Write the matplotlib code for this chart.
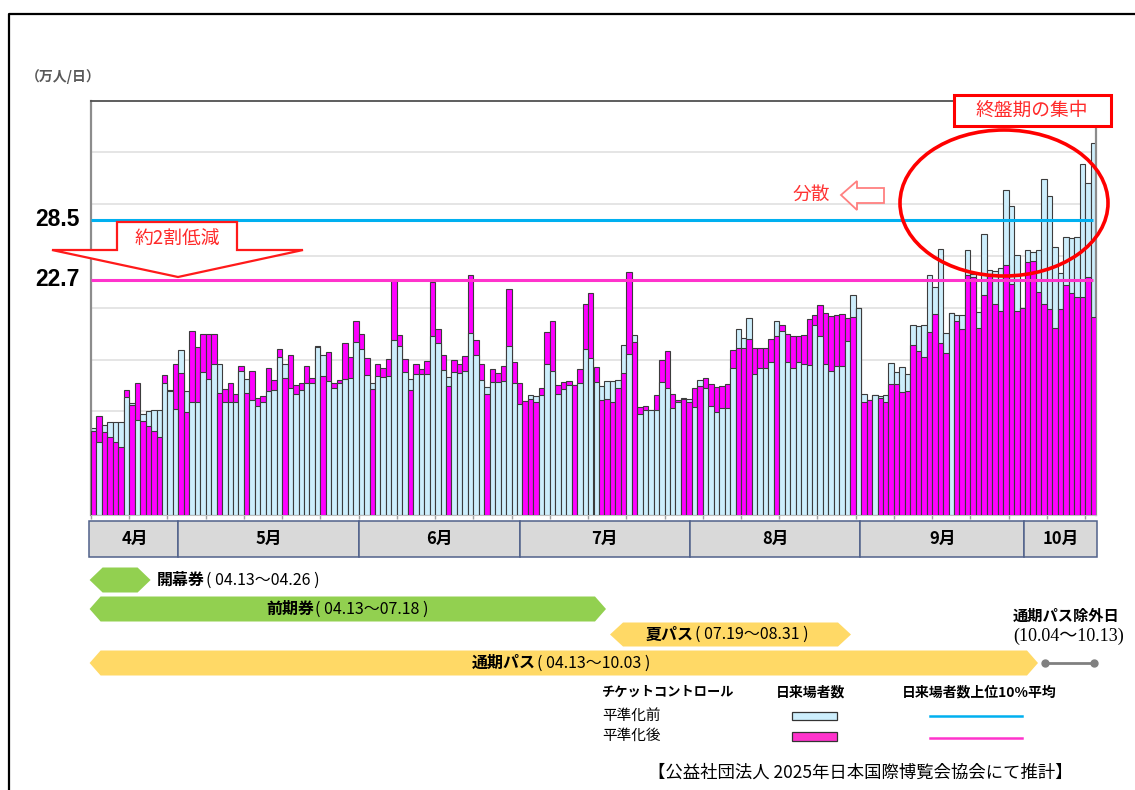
import numpy as np
import matplotlib
matplotlib.use("Agg")
import matplotlib.pyplot as plt
from matplotlib.patches import Polygon, Rectangle, Ellipse

plt.rcParams['font.family'] = ['Noto Sans CJK JP', 'DejaVu Sans']

# ---------------- data (万人/日), 2025-04-13 .. 2025-10-13 ----------------
before = [8.37, 7.05, 8.65, 9.01, 8.94, 9.01, 11.36, 10.78, 9.14, 9.75,
          10.07, 10.10, 10.17, 12.77, 12.0, 10.26, 15.93, 11.94, 10.88, 10.94,
          13.80, 13.13, 14.61, 14.61, 10.88, 10.88, 10.94, 13.90, 13.13, 11.07,
          10.55, 10.94, 12.00, 12.10, 15.28, 14.54, 12.29, 11.65, 12.10, 12.71,
          12.77, 16.25, 15.41, 12.93, 12.29, 12.77, 13.10, 13.19, 16.67, 15.99,
          13.48, 12.77, 13.38, 13.32, 13.38, 16.86, 16.34, 13.80, 13.13, 13.64,
          13.58, 13.64, 17.28, 16.57, 14.00, 13.32, 13.80, 13.74, 13.90, 17.54,
          15.48, 13.06, 12.39, 12.87, 12.87, 12.93, 16.34, 12.71, 10.71, 11.02,
          11.55, 11.49, 11.55, 14.61, 13.90, 11.65, 12.13, 12.58, 12.54, 12.71,
          15.99, 15.12, 12.81, 12.45, 12.97, 12.97, 13.03, 16.44, 15.54, 17.34,
          9.75, 10.17, 10.10, 10.17, 12.87, 12.23, 10.30, 10.88, 11.33, 11.23,
          10.39, 13.00, 12.30, 10.50, 9.90, 10.30, 10.30, 14.20, 18.00, 17.05,
          19.05, 13.60, 14.20, 14.20, 14.80, 18.70, 17.80, 14.80, 14.20, 14.80,
          14.60, 14.50, 18.30, 17.30, 14.60, 13.90, 14.40, 14.40, 16.80, 21.20,
          20.00, 11.65, 11.12, 11.60, 11.50, 11.55, 14.63, 13.80, 14.30, 13.60,
          18.30, 18.25, 18.30, 23.20, 22.00, 25.70, 17.60, 19.50, 19.30, 19.30,
          25.60, 23.30, 19.60, 27.10, 23.70, 23.60, 23.80, 31.40, 29.80, 25.10,
          20.02, 25.60, 25.40, 25.60, 32.40, 30.80, 25.90, 23.40, 26.80, 26.70,
          26.80, 33.90, 32.10, 35.90]
after = [8.11, 9.59, 7.98, 7.56, 7.08, 6.53, 12.07, 10.62, 12.77, 9.11,
         8.62, 8.11, 7.50, 13.55, 12.1, 14.54, 13.67, 9.91, 17.73, 16.18,
         17.50, 17.50, 17.50, 11.74, 12.19, 12.77, 11.65, 14.41, 11.81, 13.90,
         11.33, 11.52, 14.16, 13.03, 15.99, 13.19, 15.48, 12.52, 12.77, 14.41,
         13.26, 16.27, 13.38, 15.70, 12.77, 13.03, 16.57, 15.22, 18.69, 17.44,
         15.12, 12.13, 14.61, 14.19, 15.03, 22.68, 17.34, 15.03, 12.10, 14.54,
         14.09, 14.83, 22.49, 17.92, 15.48, 12.45, 14.93, 14.54, 15.38, 23.20,
         16.86, 14.54, 11.65, 14.09, 13.67, 14.41, 21.78, 14.77, 12.77, 11.00,
         11.23, 10.88, 12.29, 17.66, 18.69, 12.52, 12.81, 12.97, 12.52, 14.09,
         20.33, 21.46, 14.32, 11.07, 11.23, 10.88, 12.29, 13.74, 23.42, 16.67,
         10.39, 10.55, 10.12, 11.55, 14.96, 15.83, 11.71, 11.07, 11.23, 10.88,
         12.29, 12.50, 13.20, 12.60, 12.40, 12.50, 12.60, 15.90, 16.10, 16.10,
         17.00, 16.10, 16.15, 16.15, 17.00, 17.30, 18.30, 17.50, 17.30, 17.30,
         17.40, 18.90, 19.30, 20.30, 19.50, 19.20, 19.30, 19.40, 19.00, 19.10,
         20.02, 10.87, 11.10, 11.62, 11.27, 10.87, 12.60, 12.60, 11.90, 12.00,
         16.40, 15.80, 15.30, 17.70, 19.40, 16.60, 15.60, 19.52, 18.70, 18.00,
         23.20, 23.00, 18.10, 21.20, 23.30, 20.40, 19.70, 24.10, 22.30, 19.70,
         20.00, 24.40, 24.50, 21.50, 20.40, 19.90, 18.10, 19.90, 22.20, 21.40,
         21.00, 21.00, 22.98, 19.10]
top10_before = 28.5
top10_after = 22.7

months = ['4月', '5月', '6月', '7月', '8月', '9月', '10月']
month_edges = [0, 16, 49, 78.4, 109.5, 140.7, 170.7, 184]

tickets = ['開幕券', '前期券', '夏パス', '通期パス']
ticket_periods = ['( 04.13～04.26 )', '( 04.13～07.18 )', '( 07.19～08.31 )', '( 04.13～10.03 )']

# ---------------- figure ----------------
W, H = 1135, 790
fig = plt.figure(figsize=(W / 100, H / 100), dpi=100)
fig.patch.set_facecolor('white')

C_BEFORE = '#cdeefc'
C_AFTER = '#ff00ff'
C_LINE_B = '#00b0f0'
C_LINE_A = '#ff33cc'

L, R, T, B = 91, 1096, 100.7, 515
ax = fig.add_axes([L / W, 1 - B / H, (R - L) / W, (B - T) / H])
n = len(before)
x = np.arange(n)
b = np.array(before)
a = np.array(after)
tall = np.maximum(a, b)
short = np.minimum(a, b)
tall_col = [C_AFTER if ai > bi else C_BEFORE for ai, bi in zip(a, b)]
short_col = [C_BEFORE if ai > bi else C_AFTER for ai, bi in zip(a, b)]
ax.bar(x, tall, width=1, align='edge', color=tall_col, edgecolor='#3c3c3c', linewidth=0.8, zorder=2)
ax.bar(x, short, width=1, align='edge', color=short_col, edgecolor='#3c3c3c', linewidth=0.8, zorder=3)

ax.plot([0, n - 0.5], [top10_before] * 2, color=C_LINE_B, lw=2.2, zorder=4, solid_capstyle='butt')
ax.plot([0, n - 0.5], [top10_after] * 2, color=C_LINE_A, lw=2.2, zorder=4, solid_capstyle='butt')

ax.set_xlim(0, n)
ax.set_ylim(0, 40)
ax.set_yticks(np.arange(5, 40, 5))
ax.set_yticklabels([])
ax.tick_params(axis='y', length=0)
ax.grid(axis='y', color='#e3e3e3', lw=1.3, zorder=0)
ax.set_axisbelow(True)
ax.set_xticks(np.arange(0, n + 1, 7))
ax.set_xticklabels([])
ax.tick_params(axis='x', length=3, color='#a0a0a0', width=1, direction='out')
for s in ['left', 'right']:
    ax.spines[s].set_color('#8c8c8c')
    ax.spines[s].set_linewidth(1.6)
ax.spines['top'].set_color('#505050')
ax.spines['top'].set_linewidth(1.3)
ax.spines['bottom'].set_color('#c0c0c0')
ax.spines['bottom'].set_linewidth(0.8)

ytr = ax.get_yaxis_transform()
ax.text(-0.011, top10_before, '28.5', transform=ytr, ha='right', va='center',
        fontsize=16.5, fontweight='bold', family=['Liberation Sans', 'DejaVu Sans'])
ax.text(-0.011, top10_after, '22.7', transform=ytr, ha='right', va='center',
        fontsize=16.5, fontweight='bold', family=['Liberation Sans', 'DejaVu Sans'])

# ---------------- month header ----------------
hx = fig.add_axes([89 / W, 1 - 557 / H, (R - 89 + 1) / W, 36 / H])
hx.set_xlim(-0.35, n)
hx.set_ylim(0, 1)
hx.axis('off')
for m, e0, e1 in zip(months, month_edges[:-1], month_edges[1:]):
    x0 = e0 if e0 > 0 else -0.35
    hx.add_patch(Rectangle((x0, 0), e1 - x0, 1,
                           facecolor='#d9d9d9', edgecolor='#50618a', lw=1.1, clip_on=False))
    hx.text((e0 + e1) / 2, 0.5, m, ha='center', va='center', fontsize=12, fontweight='bold')

# ---------------- overlay (pixel coords) ----------------
ov = fig.add_axes([0, 0, 1, 1], zorder=10)
ov.set_xlim(0, W)
ov.set_ylim(H, 0)
ov.axis('off')

# outer frame
ov.plot([8.5, 8.5, W + 5], [H + 5, 14, 14], color='black', lw=1.6, clip_on=False)

ov.text(26, 77, '（万人/日）', ha='left', va='center', fontsize=10, fontweight='bold', color='#595959')

# 約2割低減 arrow
ov.add_patch(Polygon([(117, 222), (237, 222), (237, 250), (303, 250), (178, 277), (52, 250), (117, 250)],
                     closed=True, facecolor='white', edgecolor='#ff1a1a', lw=1.6))
ov.text(177, 238, '約2割低減', ha='center', va='center', fontsize=13.5, color='#ff2a2a')

# 分散 arrow
ov.add_patch(Polygon([(841, 195), (857, 181), (857, 188), (884, 188), (884, 203), (857, 203), (857, 210)],
                     closed=True, facecolor='white', edgecolor='#ff8080', lw=1.3))
ov.text(811, 194, '分散', ha='center', va='center', fontsize=13.5, color='#ff3333')

# ellipse + box
ov.add_patch(Ellipse((1004, 203), 208, 146, fill=False, edgecolor='#ff0000', lw=2.6))
ov.add_patch(Rectangle((954, 95), 157, 31, facecolor='white', edgecolor='#ff0000', lw=2.2))
ov.text(1032, 110.5, '終盤期の集中', ha='center', va='center', fontsize=13.5, color='#ff2a2a')


def hexbar(x0, x1, yc, h, tip, color):
    pts = [(x0, yc), (x0 + tip, yc - h / 2), (x1 - tip, yc - h / 2), (x1, yc),
           (x1 - tip, yc + h / 2), (x0 + tip, yc + h / 2)]
    ov.add_patch(Polygon(pts, closed=True, facecolor=color, edgecolor='none'))


GREEN = '#92d050'
YELLOW = '#ffd966'
hexbar(89.6, 150.6, 580, 25, 13, GREEN)
hexbar(89.6, 606, 609, 25, 11, GREEN)
hexbar(610, 851, 634.5, 24, 13, YELLOW)
hexbar(89.6, 1038, 663, 25, 11, YELLOW)

tfs = 11.5
for name, per, split, yc in zip(tickets, ticket_periods, [205, 314, 694, 536], [580, 609, 634.5, 663]):
    ov.text(split, yc, name, ha='right', va='center', fontsize=tfs, fontweight='bold')
    ov.text(split + 1, yc, per, ha='left', va='center', fontsize=tfs)

ov.plot([1045, 1094], [663, 663], color='#808080', lw=2, marker='o', markersize=5)
ov.text(1013, 616, '通期パス除外日', ha='left', va='center', fontsize=11, fontweight='bold')
ov.text(1013, 636, '(10.04～10.13)', ha='left', va='center', fontsize=13,
        family=['Liberation Serif', 'Noto Sans CJK JP'])

# legend
ov.text(602, 692, 'チケットコントロール', ha='left', va='center', fontsize=9.5, fontweight='bold')
ov.text(811, 692, '日来場者数', ha='center', va='center', fontsize=10, fontweight='bold')
ov.text(979, 692, '日来場者数上位10%平均', ha='center', va='center', fontsize=10, fontweight='bold')
ov.text(602, 716, '平準化前', ha='left', va='center', fontsize=10.5)
ov.text(602, 736, '平準化後', ha='left', va='center', fontsize=10.5)
ov.add_patch(Rectangle((792, 712), 45, 8, facecolor=C_BEFORE, edgecolor='#333333', lw=0.9))
ov.add_patch(Rectangle((792, 732), 45, 9, facecolor='#ff33cc', edgecolor='#333333', lw=0.9))
ov.plot([930, 1022], [716, 716], color=C_LINE_B, lw=1.8)
ov.plot([930, 1022], [738, 738], color=C_LINE_A, lw=1.8)

ov.text(860, 773, '【公益社団法人 2025年日本国際博覧会協会にて推計】', ha='center', va='center', fontsize=12.5)

fig.savefig('out.png', dpi=100)
